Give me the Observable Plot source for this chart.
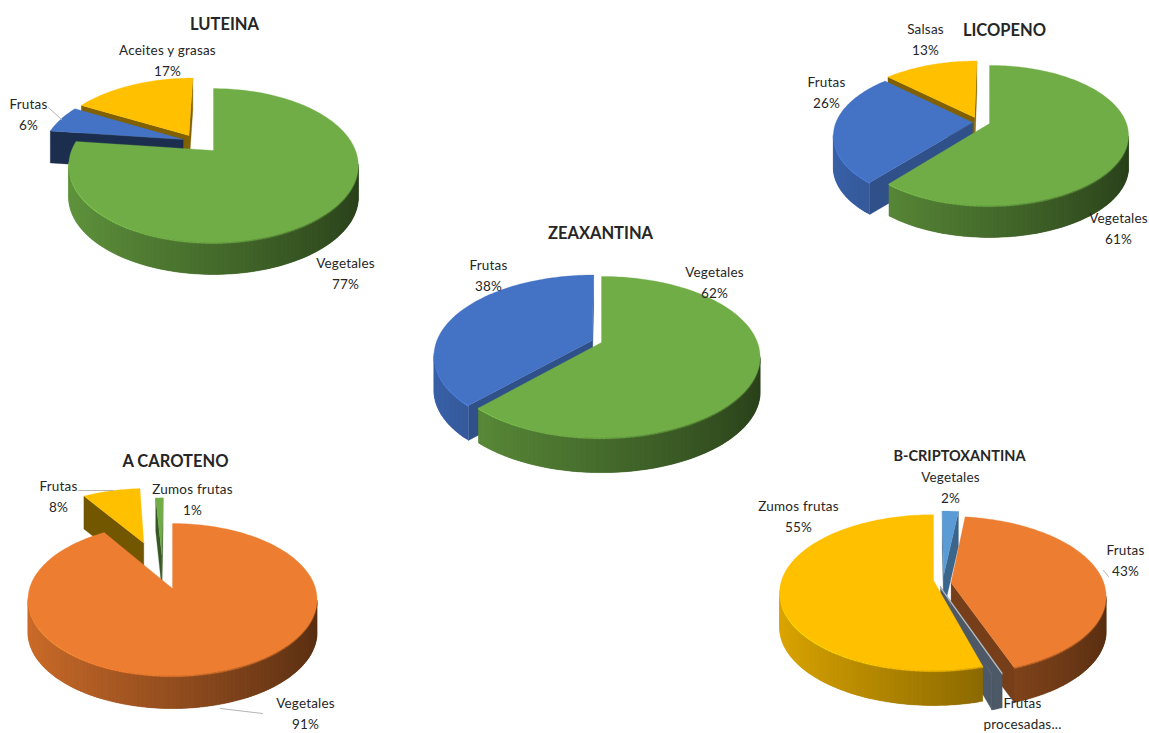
<!DOCTYPE html>
<html lang="es">
<head>
<meta charset="utf-8">
<script src="https://cdn.jsdelivr.net/npm/d3@7"></script>
<script src="https://cdn.jsdelivr.net/npm/@observablehq/plot@0.6"></script>
<style>
  html, body { margin: 0; padding: 0; background: #fff; }
  svg { display: block; }
  .caption text { letter-spacing: 0.2px; }
</style>
</head>
<body>
<div id="chart"></div>
<script>
// Share of each carotenoid's dietary intake by food group (percent).
const luteinaNames = ["Vegetales", "Frutas", "Aceites y grasas"];
const luteinaValues = [77, 6, 17];
const licopenoNames = ["Vegetales", "Frutas", "Salsas"];
const licopenoValues = [61, 26, 13];
const zeaxantinaNames = ["Vegetales", "Frutas"];
const zeaxantinaValues = [62, 38];
const carotenoNames = ["Vegetales", "Frutas", "Zumos frutas"];
const carotenoValues = [91, 8, 1];
const criptoNames = ["Vegetales", "Frutas", "Frutas procesadas...", "Zumos frutas"];
const criptoValues = [2, 43, 1, 55];

// Food group colours.
const groupColors = {
  "Vegetales": "#70ad47", "Frutas": "#4472c4", "Aceites y grasas": "#ffc000",
  "Salsas": "#ffc000", "Zumos frutas": "#ffc000"
};

// Layout of every pie: apex, radii, perspective and wall height, plus how far
// each slice is pulled out of the pie, in radius units (sideways, backwards).
const pies = [
  {title: "LUTEINA", titleAt: [224, 24], titleSize: 16.5, names: luteinaNames, values: luteinaValues,
   cx: 213, cy: 150, R: 142, H: 74, k: 0.195, d: 32,
   pull: [[0, 0], [-0.22, 0.154], [-0.18, 0.21]],
   faceDark: [0.5, 0.4, 0.5],
   labelAt: [[345, 274], [28, 115], [167, 61]]},
  {title: "LICOPENO", titleAt: [1004, 30], titleSize: 16.5, names: licopenoNames, values: licopenoValues,
   cx: 989, cy: 123, R: 137, H: 68, k: 0.17, d: 32,
   pull: [[0, 0], [-0.124, 0.015], [-0.11, 0.09]],
   faceDark: [0.5, 0.7, 0.5],
   labelAt: [[1118, 229], [826, 93], [925, 40]]},
  {title: "ZEAXANTINA", titleAt: [600, 233], titleSize: 16.5, names: zeaxantinaNames, values: zeaxantinaValues,
   cx: 601, cy: 342, R: 156, H: 78, k: 0.18, d: 35,
   pull: [[0, 0], [-0.06, 0.025]],
   faceDark: [0.5, 0.7],
   labelAt: [[714, 283], [488, 276]]},
  {title: "A CAROTENO", titleAt: [175, 461], titleSize: 16.5, names: carotenoNames, values: carotenoValues,
   cx: 172, cy: 588, R: 143, H: 74.4, k: 0.145, d: 33,
   colors: ["#ed7d31", "#ffc000", "#70ad47"],
   pull: [[0, 0], [-0.22, 0.67], [-0.08, 0.48]],
   faceDark: [0.5, 0.45, 0.5],
   labelAt: [[305, 714], [58, 497], [192, 500]]},
  {title: "B-CRIPTOXANTINA", titleAt: [959, 456], titleSize: 14.5, names: criptoNames, values: criptoValues,
   cx: 933, cy: 580, R: 152, H: 76, k: 0.155, d: 35,
   colors: ["#5b9bd5", "#ed7d31", "#4d5966", "#ffc000"],
   pull: [[0.067, 0.065], [0.115, -0.03], [0.045, -0.08], [0, 0]],
   faceDark: [0.65, 0.5, 1, 0.5],
   order: [0, 1, 2, 3],
   paleEdge: 2,
   labelAt: [[950, 488], [1125, 561], [1022, 714], [798, 517]]}
];

// Thin leader lines from a label to its slice: [label, slice] for each.
const leaders = [
  [[48, 107], [61, 119]],
  [[78, 490], [113, 490]],
  [[220, 708], [262, 713]],
  [[1103, 570], [1108, 576]]
];

const rad = (deg) => (deg * Math.PI) / 180;

// Darken a colour by a factor.
function shade(color, f) {
  const c = d3.rgb(color);
  return d3.rgb(c.r * f, c.g * f, c.b * f).formatHex();
}

// Filled polygons, back to front.
const shapes = [];
let shapeId = 0;
function addShape(points, fill) {
  const id = shapeId++;
  for (const [x, y] of [...points, points[0]]) shapes.push({id, x, y, fill});
}

for (const pie of pies) {
  // Perspective: points towards the back of the pie shrink.
  const project = (X, Y) => {
    const w = 1 + pie.k * Y;
    return [pie.cx + (pie.R * X) / w, pie.cy - (pie.H * Y) / w];
  };
  const total = d3.sum(pie.values);
  let running = 0;
  const slices = pie.values.map((v, i) => {
    const start = (running / total) * 360;
    running += v;
    const end = (running / total) * 360;
    const [ox, oy] = pie.pull[i];
    const color = pie.colors ? pie.colors[i] : groupColors[pie.names[i]];
    const mid = rad((start + end) / 2);
    return {start, end, ox, oy, color, dark: pie.faceDark[i], depth: Math.cos(mid) + oy, i};
  });
  if (pie.order) slices.sort((a, b) => d3.ascending(pie.order[a.i], pie.order[b.i]));
  else slices.sort((a, b) => d3.descending(a.depth, b.depth));

  for (const s of slices) {
    const at = (deg) => project(s.ox + Math.sin(rad(deg)), s.oy + Math.cos(rad(deg)));
    const apex = project(s.ox, s.oy);
    const down = ([x, y], h = pie.d) => [x, y + h];
    const steps = d3.range(s.start, s.end, 1.5).concat(s.end);
    const face = shade(s.color, s.dark);
    const light = d3.rgb(s.color).brighter(0.7);
    const thin = pie.paleEdge === s.i;

    // Cut faces of the slice, only when they turn towards the viewer.
    const pStart = at(s.start), pEnd = at(s.end);
    if (pStart[0] < apex[0]) addShape([apex, pStart, down(pStart), down(apex)], face);
    if (pEnd[0] > apex[0]) addShape([apex, pEnd, down(pEnd), down(apex)], face);

    // Outer wall, in narrow strips, darker towards the right, with a bevel on top.
    // Each strip runs under the next one so no seam shows between them.
    for (let j = 0; j + 1 < steps.length; ++j) {
      const a = at(steps[j]), b = at(steps[j + 1]);
      if (b[0] < a[0]) {
        const c = at(steps[Math.min(j + 2, steps.length - 1)]);
        const t = Math.sin(rad((steps[j] + steps[j + 1]) / 2));
        const wall = thin ? s.color : shade(s.color, 0.62 - 0.25 * t);
        addShape([a, b, c, down(c), down(b), down(a)], wall);
        if (!thin) {
          const bevel = d3.interpolateRgb(light, shade(s.color, 0.62))((t + 1) / 2);
          addShape([a, b, c, down(c, 1.3), down(b, 1.3), down(a, 1.3)], d3.rgb(bevel).formatHex());
        }
      }
    }

    // Top of the slice.
    addShape([apex, ...steps.map(at)], s.color);

    // A pale line along the start of a very thin slice.
    if (thin) addShape([apex, pStart, down(pStart, 1.6), down(apex, 1.6)], "#c4c6c8");
  }
}

// Slice captions: name above value, and the pie titles.
const captions = pies.flatMap((pie) =>
  pie.names.map((name, i) => ({
    x: pie.labelAt[i][0],
    y: pie.labelAt[i][1],
    text: name === "Frutas procesadas..." ? "Frutas\nprocesadas..." : `${name}\n${pie.values[i]}%`
  }))
);
const titles = pies.map((pie) => ({x: pie.titleAt[0], y: pie.titleAt[1], text: pie.title, size: pie.titleSize}));
const leaderPoints = leaders.flatMap((pair, id) => pair.map(([x, y]) => ({id, x, y})));

const chart = Plot.plot({
  width: 1149,
  height: 733,
  margin: 0,
  style: {background: "#fff"},
  x: {domain: [0, 1149], range: [0, 1149], axis: null},
  y: {domain: [0, 733], range: [0, 733], axis: null},
  color: {type: "identity"},
  marks: [
    Plot.line(shapes, {x: "x", y: "y", z: "id", fill: "fill", stroke: "fill", strokeWidth: 0.3}),
    Plot.line(leaderPoints, {x: "x", y: "y", z: "id", stroke: "#b4b4b4", strokeWidth: 1}),
    Plot.text(captions, {
      x: "x", y: "y", dy: -3, text: "text", fontFamily: "Lato", fontSize: 13.5,
      lineHeight: 1.55, fill: "#262626", textAnchor: "middle", lineAnchor: "middle",
      className: "caption"
    }),
    ...[16.5, 14.5].map((size) => Plot.text(titles.filter((t) => t.size === size), {
      x: "x", y: "y", text: "text", fontFamily: "Lato", fontSize: size, fontWeight: 700,
      fill: "#262626", textAnchor: "middle", lineAnchor: "middle"
    }))
  ]
});
document.getElementById("chart").append(chart);
</script>
</body>
</html>
